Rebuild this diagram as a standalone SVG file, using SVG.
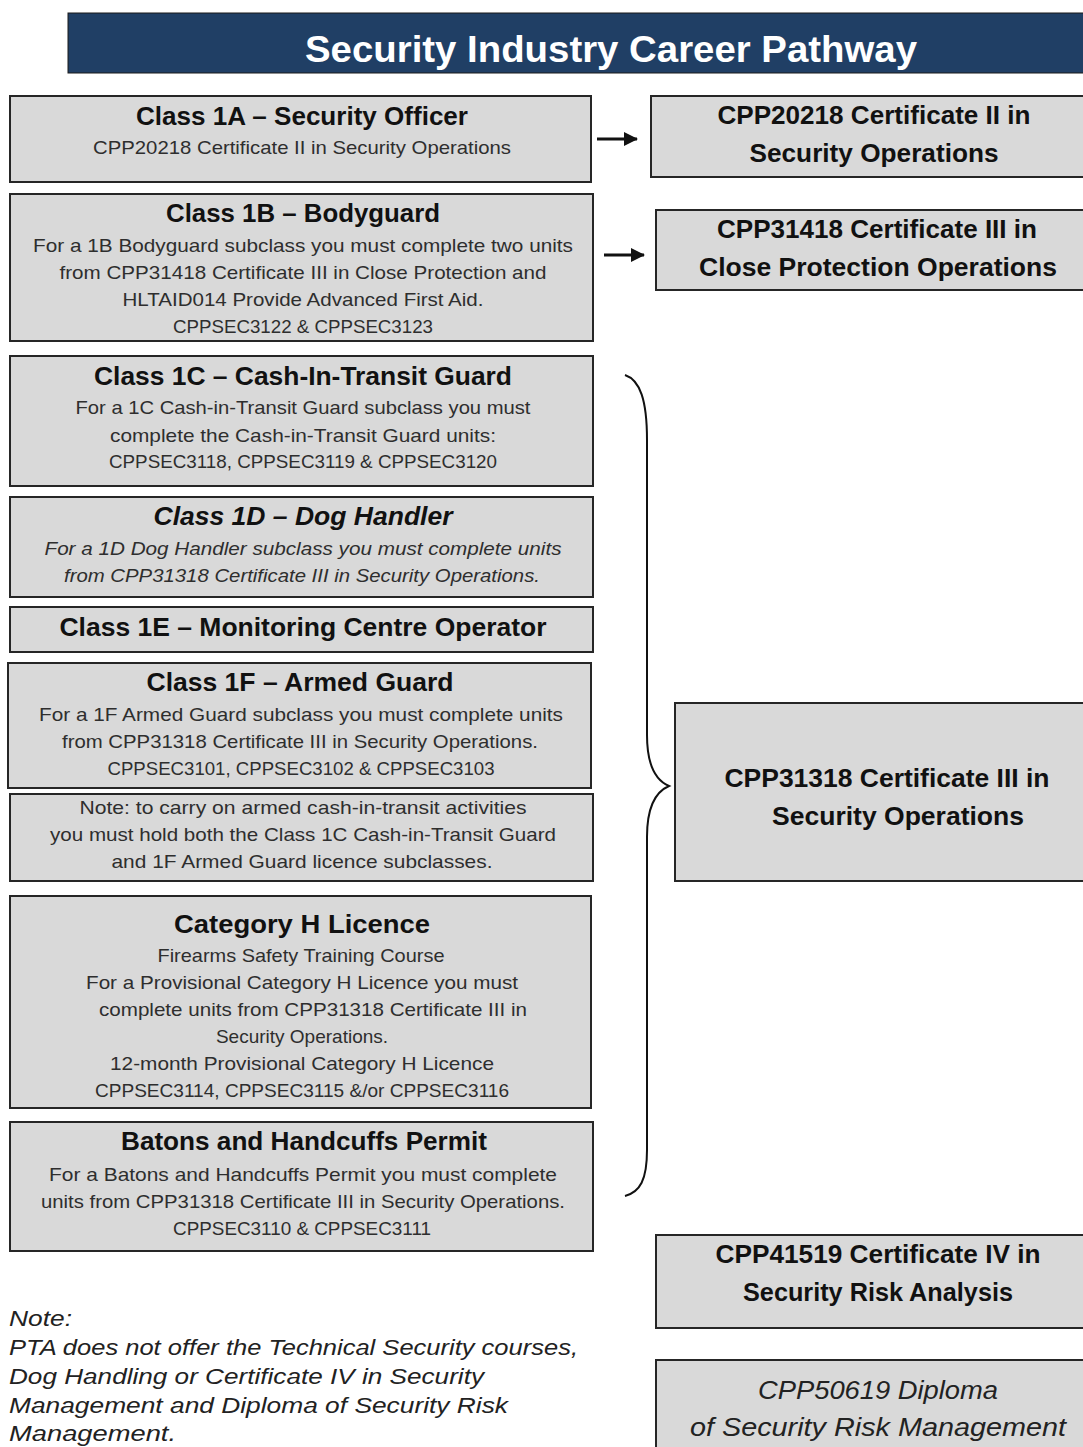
<svg xmlns="http://www.w3.org/2000/svg" width="1083" height="1447" viewBox="0 0 1083 1447">
<style>
.box{fill:#d9d9d9;stroke:#262626;stroke-width:2}
.t{font-family:"Liberation Sans",Arial,sans-serif;font-weight:bold;font-size:25px;fill:#111;text-anchor:middle}
.ti{font-style:italic}
.b{font-family:"Liberation Sans",Arial,sans-serif;font-size:19px;fill:#2e2e2e;text-anchor:middle}
.bi{font-style:italic}
.r{font-family:"Liberation Sans",Arial,sans-serif;font-weight:bold;font-size:25px;fill:#111;text-anchor:middle}
.ri{font-family:"Liberation Sans",Arial,sans-serif;font-style:italic;font-size:26px;fill:#222;text-anchor:middle}
.n{font-family:"Liberation Sans",Arial,sans-serif;font-style:italic;font-size:22px;fill:#222}
.conn{fill:none;stroke:#111;stroke-width:3}
</style>
<defs>
<marker id="ah" markerWidth="14" markerHeight="14" refX="13" refY="7" orient="auto" markerUnits="userSpaceOnUse">
<path d="M0,0 L14,7 L0,14 Z" fill="#111"/>
</marker>
</defs>
<rect width="1083" height="1447" fill="#fff"/>

<g id="title">
<rect x="68" y="13" width="1020" height="60" fill="#203f65" stroke="#1a1a1a" stroke-width="1"/>
<text x="611" y="62" font-family="'Liberation Sans',Arial,sans-serif" font-weight="bold" font-size="36" fill="#fff" text-anchor="middle" textLength="612" lengthAdjust="spacingAndGlyphs">Security Industry Career Pathway</text>
</g>

<g id="class1a">
<rect class="box" x="10" y="96" width="581" height="86"/>
<text class="t" x="302" y="125" textLength="332" lengthAdjust="spacingAndGlyphs">Class 1A – Security Officer</text>
<text class="b" x="302" y="154" textLength="418" lengthAdjust="spacingAndGlyphs">CPP20218 Certificate II in Security Operations</text>
</g>

<g id="class1b">
<rect class="box" x="10" y="194" width="583" height="147"/>
<text class="t" x="303" y="222" textLength="274" lengthAdjust="spacingAndGlyphs">Class 1B – Bodyguard</text>
<text class="b" x="303" y="252" textLength="540" lengthAdjust="spacingAndGlyphs">For a 1B Bodyguard subclass you must complete two units</text>
<text class="b" x="303" y="279" textLength="487" lengthAdjust="spacingAndGlyphs">from CPP31418 Certificate III in Close Protection and</text>
<text class="b" x="303" y="306" textLength="361" lengthAdjust="spacingAndGlyphs">HLTAID014 Provide Advanced First Aid.</text>
<text class="b" x="303" y="333" textLength="260" lengthAdjust="spacingAndGlyphs">CPPSEC3122 &amp; CPPSEC3123</text>
</g>

<g id="class1c">
<rect class="box" x="10" y="356" width="583" height="130"/>
<text class="t" x="303" y="385" textLength="418" lengthAdjust="spacingAndGlyphs">Class 1C – Cash-In-Transit Guard</text>
<text class="b" x="303" y="414" textLength="455" lengthAdjust="spacingAndGlyphs">For a 1C Cash-in-Transit Guard subclass you must</text>
<text class="b" x="303" y="442" textLength="386" lengthAdjust="spacingAndGlyphs">complete the Cash-in-Transit Guard units:</text>
<text class="b" x="303" y="468" textLength="388" lengthAdjust="spacingAndGlyphs">CPPSEC3118, CPPSEC3119 &amp; CPPSEC3120</text>
</g>

<g id="class1d">
<rect class="box" x="10" y="497" width="583" height="100"/>
<text class="t ti" x="303" y="525" textLength="299" lengthAdjust="spacingAndGlyphs">Class 1D – Dog Handler</text>
<text class="b bi" x="303" y="555" textLength="517" lengthAdjust="spacingAndGlyphs">For a 1D Dog Handler subclass you must complete units</text>
<text class="b bi" x="302" y="582" textLength="476" lengthAdjust="spacingAndGlyphs">from CPP31318 Certificate III in Security Operations.</text>
</g>

<g id="class1e">
<rect class="box" x="10" y="607" width="583" height="45"/>
<text class="t" x="303" y="636" textLength="487" lengthAdjust="spacingAndGlyphs">Class 1E – Monitoring Centre Operator</text>
</g>

<g id="class1f">
<rect class="box" x="8" y="663" width="583" height="125"/>
<text class="t" x="300" y="691" textLength="307" lengthAdjust="spacingAndGlyphs">Class 1F – Armed Guard</text>
<text class="b" x="301" y="721" textLength="524" lengthAdjust="spacingAndGlyphs">For a 1F Armed Guard subclass you must complete units</text>
<text class="b" x="300" y="748" textLength="476" lengthAdjust="spacingAndGlyphs">from CPP31318 Certificate III in Security Operations.</text>
<text class="b" x="301" y="775" textLength="387" lengthAdjust="spacingAndGlyphs">CPPSEC3101, CPPSEC3102 &amp; CPPSEC3103</text>
</g>

<g id="note-armed">
<rect class="box" x="10" y="794" width="583" height="87"/>
<text class="b" x="303" y="814" textLength="447" lengthAdjust="spacingAndGlyphs">Note: to carry on armed cash-in-transit activities</text>
<text class="b" x="303" y="841" textLength="506" lengthAdjust="spacingAndGlyphs">you must hold both the Class 1C Cash-in-Transit Guard</text>
<text class="b" x="302" y="868" textLength="381" lengthAdjust="spacingAndGlyphs">and 1F Armed Guard licence subclasses.</text>
</g>

<g id="category-h">
<rect class="box" x="10" y="896" width="581" height="212"/>
<text class="t" x="302" y="933" textLength="256" lengthAdjust="spacingAndGlyphs">Category H Licence</text>
<text class="b" x="301" y="962" textLength="287" lengthAdjust="spacingAndGlyphs">Firearms Safety Training Course</text>
<text class="b" x="302" y="989" textLength="432" lengthAdjust="spacingAndGlyphs">For a Provisional Category H Licence you must</text>
<text class="b" x="313" y="1016" textLength="428" lengthAdjust="spacingAndGlyphs">complete units from CPP31318 Certificate III in</text>
<text class="b" x="302" y="1043">Security Operations.</text>
<text class="b" x="302" y="1070" textLength="384" lengthAdjust="spacingAndGlyphs">12-month Provisional Category H Licence</text>
<text class="b" x="302" y="1097" textLength="414" lengthAdjust="spacingAndGlyphs">CPPSEC3114, CPPSEC3115 &amp;/or CPPSEC3116</text>
</g>

<g id="batons">
<rect class="box" x="10" y="1122" width="583" height="129"/>
<text class="t" x="304" y="1150" textLength="366" lengthAdjust="spacingAndGlyphs">Batons and Handcuffs Permit</text>
<text class="b" x="303" y="1181" textLength="508" lengthAdjust="spacingAndGlyphs">For a Batons and Handcuffs Permit you must complete</text>
<text class="b" x="303" y="1208" textLength="524" lengthAdjust="spacingAndGlyphs">units from CPP31318 Certificate III in Security Operations.</text>
<text class="b" x="302" y="1235" textLength="258" lengthAdjust="spacingAndGlyphs">CPPSEC3110 &amp; CPPSEC3111</text>
</g>

<g id="cpp20218">
<rect class="box" x="651" y="96" width="440" height="81"/>
<text class="r" x="874" y="124" textLength="313" lengthAdjust="spacingAndGlyphs">CPP20218 Certificate II in</text>
<text class="r" x="874" y="162" textLength="249" lengthAdjust="spacingAndGlyphs">Security Operations</text>
</g>

<g id="cpp31418">
<rect class="box" x="656" y="210" width="435" height="80"/>
<text class="r" x="877" y="238" textLength="320" lengthAdjust="spacingAndGlyphs">CPP31418 Certificate III in</text>
<text class="r" x="878" y="276" textLength="358" lengthAdjust="spacingAndGlyphs">Close Protection Operations</text>
</g>

<g id="cpp31318">
<rect class="box" x="675" y="703" width="416" height="178"/>
<text class="r" x="887" y="787" textLength="325" lengthAdjust="spacingAndGlyphs">CPP31318 Certificate III in</text>
<text class="r" x="898" y="825" textLength="252" lengthAdjust="spacingAndGlyphs">Security Operations</text>
</g>

<g id="cpp41519">
<rect class="box" x="656" y="1235" width="435" height="93"/>
<text class="r" x="878" y="1263" textLength="325" lengthAdjust="spacingAndGlyphs">CPP41519 Certificate IV in</text>
<text class="r" x="878" y="1301" textLength="270" lengthAdjust="spacingAndGlyphs">Security Risk Analysis</text>
</g>

<g id="cpp50619">
<rect class="box" x="656" y="1360" width="435" height="100"/>
<text class="ri" x="878" y="1399" textLength="240" lengthAdjust="spacingAndGlyphs">CPP50619 Diploma</text>
<text class="ri" x="878" y="1436" textLength="376" lengthAdjust="spacingAndGlyphs">of Security Risk Management</text>
</g>

<g id="note">
<text class="n" x="9" y="1326" textLength="63" lengthAdjust="spacingAndGlyphs">Note:</text>
<text class="n" x="9" y="1355" textLength="569" lengthAdjust="spacingAndGlyphs">PTA does not offer the Technical Security courses,</text>
<text class="n" x="9" y="1384" textLength="475" lengthAdjust="spacingAndGlyphs">Dog Handling or Certificate IV in Security</text>
<text class="n" x="9" y="1413" textLength="499" lengthAdjust="spacingAndGlyphs">Management and Diploma of Security Risk</text>
<text class="n" x="9" y="1441" textLength="167" lengthAdjust="spacingAndGlyphs">Management.</text>
</g>

<g id="connectors">
<line class="conn" x1="597" y1="139" x2="637" y2="139" marker-end="url(#ah)"/>
<line class="conn" x1="604" y1="255" x2="644" y2="255" marker-end="url(#ah)"/>
<path d="M625,375 C640,380 647,400 647,440 L647,735 C647,765 655,780 669,786 C655,792 647,807 647,837 L647,1150 C647,1180 640,1192 625,1196" fill="none" stroke="#111" stroke-width="2"/>
</g>
</svg>
